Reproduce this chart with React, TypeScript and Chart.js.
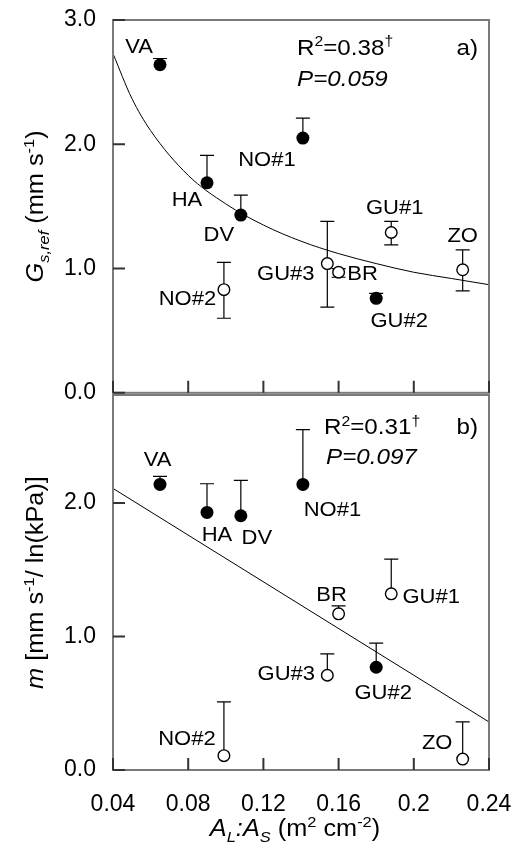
import React, { useEffect, useRef } from 'react';
import { Chart, registerables } from 'chart.js';
Chart.register(...registerables);

// ---------------- data ----------------
const sites = ['VA', 'HA', 'DV', 'NO#1', 'NO#2', 'GU#1', 'GU#2', 'GU#3', 'BR', 'ZO'];
const alAs = [0.065, 0.09, 0.108, 0.141, 0.099, 0.188, 0.18, 0.154, 0.16, 0.226];
const isFilled = [true, true, true, true, false, false, true, false, false, false];

const gsRef = [2.64, 1.69, 1.43, 2.05, 0.83, 1.29, 0.76, 1.04, 0.97, 0.99];
const gsRefHi = [2.69, 1.91, 1.59, 2.21, 1.05, 1.38, 0.8, 1.38, 1.0, 1.15];
const gsRefLo: (number | null)[] = [null, null, null, null, 0.6, 1.19, null, 0.69, 0.93, 0.82];

const mSens = [2.14, 1.93, 1.905, 2.14, 0.107, 1.32, 0.77, 0.71, 1.17, 0.082];
const mSensHi = [2.2, 2.145, 2.17, 2.55, 0.51, 1.58, 0.95, 0.87, 1.23, 0.36];
const mSensLo: (number | null)[] = [null, null, null, null, null, null, null, null, null, null];

const fitGsX = [0.04, 0.05, 0.06, 0.08, 0.1, 0.12, 0.14, 0.16, 0.18, 0.2, 0.22, 0.24];
const fitGsY = [2.73, 2.37, 2.11, 1.75, 1.52, 1.35, 1.22, 1.12, 1.04, 0.97, 0.92, 0.87];
const fitMX = [0.04, 0.24];
const fitMY = [2.11, 0.36];

const xTicks = [0.04, 0.08, 0.12, 0.16, 0.2, 0.24];
const gsTicks = [0, 1, 2, 3];
const mTicks = [0, 1, 2];

// ---------------- layout / style ----------------
const FONT = '"Liberation Sans", Arial, Helvetica, sans-serif';
const SX = 1.1;
const FRAME = '#7a7a7a';
const TICK = '#333333';

const gsLabelOffsets = [[-21, -19], [-20, 16], [-22, 19], [-36, 21], [-36.5, 8], [3.5, -25.5], [23, 21], [-41.5, 9], [24, 1], [0, -35]];
const mLabelOffsets = [[-2.5, -26], [10, 21], [16, 21], [29.5, 24], [-37, -18], [40, 2], [7, 25], [-41, -2], [-7, -20], [-25.5, -17]];

type Seg = { t: string; it?: boolean; sup?: boolean; sub?: boolean };

function drawRich(ctx: CanvasRenderingContext2D, segs: Seg[], x: number, y: number, align: 'left' | 'center' | 'right', size: number) {
  const items = segs.map((s) => {
    const fs = s.sup || s.sub ? size * 0.65 : size;
    const font = `${s.it ? 'italic ' : ''}${fs}px ${FONT}`;
    ctx.font = font;
    const w = ctx.measureText(s.t).width * SX;
    return { ...s, font, w };
  });
  const total = items.reduce((a, b) => a + b.w, 0);
  let cx = align === 'left' ? x : align === 'center' ? x - total / 2 : x - total;
  for (const it of items) {
    ctx.save();
    ctx.font = it.font;
    ctx.fillStyle = '#000';
    ctx.textAlign = 'left';
    ctx.textBaseline = 'alphabetic';
    const dy = it.sup ? -size * 0.38 : it.sub ? size * 0.25 : 0;
    ctx.translate(cx, y + dy);
    ctx.scale(SX, 1);
    ctx.fillText(it.t, 0, 0);
    ctx.restore();
    cx += it.w;
  }
}

type PanelOpts = {
  yMax: number;
  yTicks: number[];
  vals: number[];
  hi: (number | null)[];
  lo: (number | null)[];
  fitX: number[];
  fitY: number[];
  smooth: boolean;
  labelOffsets: number[][];
  stats: Seg[][];
  statsPos: { dxR: number; r2Base: number; pDx: number; pBase: number };
  tag: string;
  yTitle: Seg[];
  showX: boolean;
  padding: { top: number; bottom: number };
  xAxisHeight: number;
};

function zeroPad(s: any) {
  s.paddingTop = 0;
  s.paddingBottom = 0;
  s.paddingLeft = 0;
  s.paddingRight = 0;
}

function makeConfig(o: PanelOpts): any {
  const panelPlugin = {
    id: 'panelDecor',
    beforeDatasetsDraw(chart: any) {
      const ctx = chart.ctx as CanvasRenderingContext2D;
      const xs = chart.scales.x;
      const ys = chart.scales.y;
      ctx.save();
      ctx.strokeStyle = '#000';
      ctx.lineWidth = 1.2;
      for (let i = 0; i < o.vals.length; i++) {
        const px = xs.getPixelForValue(alAs[i]);
        const py = ys.getPixelForValue(o.vals[i]);
        const ends = [o.hi[i], o.lo[i]];
        for (const e of ends) {
          if (e === null || e === undefined) continue;
          const pe = ys.getPixelForValue(e);
          ctx.beginPath();
          ctx.moveTo(px, py);
          ctx.lineTo(px, pe);
          ctx.moveTo(px - 7, pe);
          ctx.lineTo(px + 7, pe);
          ctx.stroke();
        }
      }
      ctx.restore();
    },
    afterDraw(chart: any) {
      const ctx = chart.ctx as CanvasRenderingContext2D;
      const a = chart.chartArea;
      const xs = chart.scales.x;
      const ys = chart.scales.y;
      ctx.save();
      ctx.setLineDash([]);
      ctx.strokeStyle = FRAME;
      ctx.lineWidth = 2;
      ctx.strokeRect(a.left, a.top, a.right - a.left, a.bottom - a.top);
      ctx.strokeStyle = TICK;
      ctx.beginPath();
      for (const v of xTicks) {
        const px = xs.getPixelForValue(v);
        ctx.moveTo(px, a.bottom);
        ctx.lineTo(px, a.bottom - 12);
      }
      for (const v of o.yTicks) {
        const py = ys.getPixelForValue(v);
        ctx.moveTo(a.left, py);
        ctx.lineTo(a.left + 12, py);
      }
      ctx.stroke();
      ctx.restore();

      for (let i = 0; i < sites.length; i++) {
        const px = xs.getPixelForValue(alAs[i]) + o.labelOffsets[i][0];
        const py = ys.getPixelForValue(o.vals[i]) + o.labelOffsets[i][1];
        drawRich(ctx, [{ t: sites[i] }], px, py + 7.2, 'center', 20);
      }
      drawRich(ctx, o.stats[0], a.right - o.statsPos.dxR, a.top + o.statsPos.r2Base, 'left', 22);
      drawRich(ctx, o.stats[1], a.right - o.statsPos.pDx, a.top + o.statsPos.pBase, 'left', 22);
      drawRich(ctx, [{ t: o.tag }], a.right - 11, a.top + o.statsPos.r2Base, 'right', 22);

      ctx.save();
      ctx.translate(43, (a.top + a.bottom) / 2);
      ctx.rotate(-Math.PI / 2);
      drawRich(ctx, o.yTitle, 0, 0, 'center', 23);
      ctx.restore();

      if (o.showX) {
        const xTitle: Seg[] = [
          { t: 'A', it: true }, { t: 'L', it: true, sub: true }, { t: ':A', it: true }, { t: 'S', it: true, sub: true },
          { t: ' (m' }, { t: '2', sup: true }, { t: ' cm' }, { t: '-2', sup: true }, { t: ')' },
        ];
        drawRich(ctx, xTitle, (a.left + a.right) / 2 - 6, a.bottom + 66, 'center', 23);
      }
    },
  };

  return {
    type: 'scatter',
    data: {
      datasets: [
        {
          type: 'line',
          data: o.fitX.map((x, i) => ({ x, y: o.fitY[i] })),
          borderColor: '#000',
          borderWidth: 1,
          pointRadius: 0,
          fill: false,
          cubicInterpolationMode: o.smooth ? 'monotone' : 'default',
          tension: 0,
          order: 2,
        },
        {
          data: alAs.map((x, i) => ({ x, y: o.vals[i] })),
          pointRadius: isFilled.map((f) => (f ? 6.5 : 5.8)),
          pointBackgroundColor: isFilled.map((f) => (f ? '#000' : '#fff')),
          pointBorderColor: '#000',
          pointBorderWidth: isFilled.map((f) => (f ? 0 : 1.4)),
          order: 0,
        },
      ],
    },
    options: {
      animation: false,
      responsive: false,
      devicePixelRatio: 1,
      layout: { padding: { left: 0, right: 27, top: o.padding.top, bottom: o.padding.bottom } },
      plugins: { legend: { display: false }, tooltip: { enabled: false } },
      scales: {
        x: {
          type: 'linear',
          min: 0.04,
          max: 0.24,
          display: o.showX,
          afterBuildTicks: (s: any) => { s.ticks = xTicks.map((v) => ({ value: v })); },
          afterFit: (s: any) => { s.height = o.xAxisHeight; zeroPad(s); },
          grid: { display: false, drawTicks: false },
          border: { display: false },
          ticks: {
            padding: 21,
            color: '#000',
            font: { family: FONT, size: 23 },
            maxRotation: 0,
            autoSkip: false,
            callback: (v: any) => String(Number(Number(v).toFixed(2))),
          },
        },
        y: {
          type: 'linear',
          min: 0,
          max: o.yMax,
          afterBuildTicks: (s: any) => { s.ticks = o.yTicks.map((v) => ({ value: v })); },
          afterFit: (s: any) => { s.width = 113; zeroPad(s); },
          grid: { display: false, drawTicks: false },
          border: { display: false },
          ticks: {
            padding: 17,
            color: '#000',
            font: { family: FONT, size: 23 },
            autoSkip: false,
            callback: (v: any) => Number(v).toFixed(1),
          },
        },
      },
    },
    plugins: [panelPlugin],
  };
}

export default function App() {
  const topRef = useRef<HTMLCanvasElement>(null);
  const botRef = useRef<HTMLCanvasElement>(null);

  useEffect(() => {
    const c1 = new Chart(topRef.current!, makeConfig({
      yMax: 3,
      yTicks: gsTicks,
      vals: gsRef,
      hi: gsRefHi,
      lo: gsRefLo,
      fitX: fitGsX,
      fitY: fitGsY,
      smooth: true,
      labelOffsets: gsLabelOffsets,
      stats: [[{ t: 'R' }, { t: '2', sup: true }, { t: '=0.38' }, { t: '†', sup: true }], [{ t: 'P=0.059', it: true }]],
      statsPos: { dxR: 192, r2Base: 34.5, pDx: 192, pBase: 66 },
      tag: 'a)',
      yTitle: [{ t: 'G', it: true }, { t: 's,ref', it: true, sub: true }, { t: ' (mm s' }, { t: '-1', sup: true }, { t: ')' }],
      showX: false,
      padding: { top: 20, bottom: 5 },
      xAxisHeight: 0,
    }));
    const c2 = new Chart(botRef.current!, makeConfig({
      yMax: 2.81,
      yTicks: mTicks,
      vals: mSens,
      hi: mSensHi,
      lo: mSensLo,
      fitX: fitMX,
      fitY: fitMY,
      smooth: false,
      labelOffsets: mLabelOffsets,
      stats: [[{ t: 'R' }, { t: '2', sup: true }, { t: '=0.31' }, { t: '†', sup: true }], [{ t: 'P=0.097', it: true }]],
      statsPos: { dxR: 165, r2Base: 39, pDx: 163, pBase: 69 },
      tag: 'b)',
      yTitle: [{ t: 'm', it: true }, { t: ' [mm s' }, { t: '-1', sup: true }, { t: '/ ln(kPa)]' }],
      showX: true,
      padding: { top: 15, bottom: 0 },
      xAxisHeight: 78,
    }));
    return () => {
      c1.destroy();
      c2.destroy();
    };
  }, []);

  return (
    <div style={{ position: 'absolute', left: 0, top: 0, width: 516, height: 848, background: '#fff' }}>
      <canvas ref={topRef} width={516} height={400} style={{ position: 'absolute', left: 0, top: 0 }} />
      <canvas ref={botRef} width={516} height={468} style={{ position: 'absolute', left: 0, top: 380 }} />
    </div>
  );
}
